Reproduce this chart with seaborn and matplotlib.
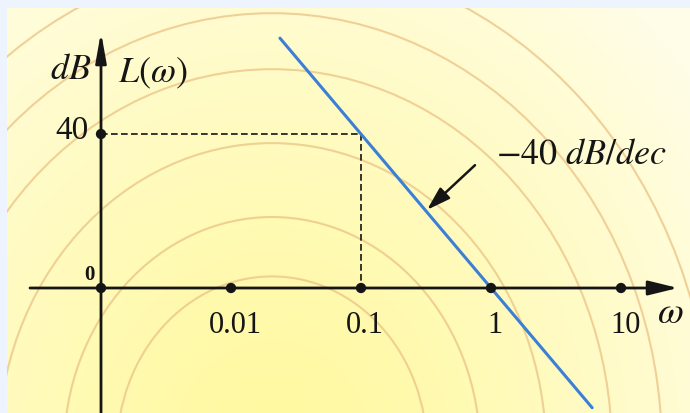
import matplotlib
matplotlib.use('Agg')
import matplotlib.pyplot as plt
from matplotlib.patches import Ellipse, Rectangle
import numpy as np
import seaborn as sns

# --- chart values ---
tick_omegas = [0.01, 0.1, 1, 10]
tick_labels = ['0.01', '0.1', '1', '10']
origin_omega = 0.001          # the "0" end of the axis, one decade left of 0.01
marked_omega = 0.1
marked_db = 40
line_omega = [0.0238, 6.0]
line_db = [64.9, -31.1]
slope_label = r'$-40\ dB/dec$'

sns.set_theme(style='white')
plt.rcParams['font.family'] = ['Liberation Serif', 'DejaVu Serif']
plt.rcParams['mathtext.fontset'] = 'stix'

W, H = 690, 413
fig = plt.figure(figsize=(6.9, 4.13), dpi=100)

# background: pale blue frame, yellow radial glow, orange rings
bg = fig.add_axes([0, 0, 1, 1])
bg.set_xlim(0, W)
bg.set_ylim(H, 0)
bg.axis('off')
bg.add_patch(Rectangle((0, 0), W, H, color='#edf4fd', zorder=0))
yy, xx = np.mgrid[8:H, 7:W]
dist = np.hypot(xx - 272, (yy - 450) / 1.12)
t = np.clip(dist / 540, 0, 1)[..., None] ** 1.3
c0 = np.array([255, 249, 160]) / 255
c1 = np.array([255, 253, 232]) / 255
bg.imshow(c0 + (c1 - c0) * t, extent=(7, W, H, 8), aspect='auto', zorder=1)
frame = Rectangle((7, 8), W - 7, H - 8, transform=bg.transData)
for a in [155, 208, 274, 340, 390, 440]:
    e = Ellipse((272, 450), 2 * a, 2 * a * 1.12, fill=False,
                ec='#ebc285', lw=1.5, alpha=0.75, zorder=2)
    bg.add_patch(e)
    e.set_clip_path(frame)

# main axes: log frequency, dB
ax = fig.add_axes([7 / W, 0, (W - 7) / W, (H - 8) / H])
ax.set_xscale('log')
ax.set_xlim(10 ** (-3 - 94 / 130), 10 ** (-3 + 589 / 130))
ax.set_ylim(-(H - 288) * 40 / 154, (288 - 8) * 40 / 154)
ax.axis('off')

ink = '#151515'
ax.annotate('', xy=(10 ** (-3 + 577 / 130), 0), xytext=(10 ** (-3 - 71 / 130), 0),
            arrowprops=dict(arrowstyle='-|>,head_length=0.9,head_width=0.22',
                            lw=2, color=ink, mutation_scale=20,
                            shrinkA=0, shrinkB=0))
ax.annotate('', xy=(origin_omega, 66.5), xytext=(origin_omega, -33),
            arrowprops=dict(arrowstyle='-|>,head_length=0.9,head_width=0.16',
                            lw=2, color=ink, mutation_scale=20,
                            shrinkA=0, shrinkB=0))

# dashed guides to the 40 dB point
ax.plot([origin_omega, marked_omega, marked_omega], [marked_db, marked_db, 0],
        ls='--', color=ink, lw=1.2, dashes=(4, 2))

# asymptote
sns.lineplot(x=line_omega, y=line_db, ax=ax, color='#3b7fd6', lw=2.2, zorder=4)

# dots on the axes
sns.scatterplot(x=[origin_omega] + tick_omegas + [origin_omega],
                y=[0] * (len(tick_omegas) + 1) + [marked_db],
                ax=ax, color=ink, s=55, edgecolor='none', zorder=5)

for w, lab in zip(tick_omegas, tick_labels):
    ax.annotate(lab, xy=(w, 0), xytext=(3, -27), textcoords='offset points',
                ha='center', va='center', fontsize=22, color=ink)
ax.annotate(str(marked_db), xy=(origin_omega, marked_db), xytext=(-9, 2),
            textcoords='offset points', ha='right', va='center',
            fontsize=24, color=ink)
ax.annotate('0', xy=(origin_omega, 0), xytext=(-4.5, 9.5),
            textcoords='offset points', ha='right', va='center',
            fontsize=15, fontweight='bold', color=ink)
ax.annotate(r'$dB$', xy=(origin_omega, 56.6), xytext=(-7, 0),
            textcoords='offset points', ha='right', va='center',
            fontsize=26, color=ink)
ax.annotate(r'$L(\omega)$', xy=(origin_omega, 55.8), xytext=(12, 0),
            textcoords='offset points', ha='left', va='center',
            fontsize=26, color=ink)
ax.text(10 ** (-3 + 569 / 130), -6.8, r'$\omega$', ha='center', va='center',
        fontsize=27, color=ink)

# slope annotation
ax.annotate('', xy=(0.322, 20.3), xytext=(0.753, 31.9),
            arrowprops=dict(arrowstyle='-|>,head_length=0.8,head_width=0.25',
                            lw=1.8, color=ink, mutation_scale=18,
                            shrinkA=0, shrinkB=0))
ax.text(1.09, 34.6, slope_label, ha='left', va='center', fontsize=26, color=ink)

fig.savefig('out.png', dpi=100)
